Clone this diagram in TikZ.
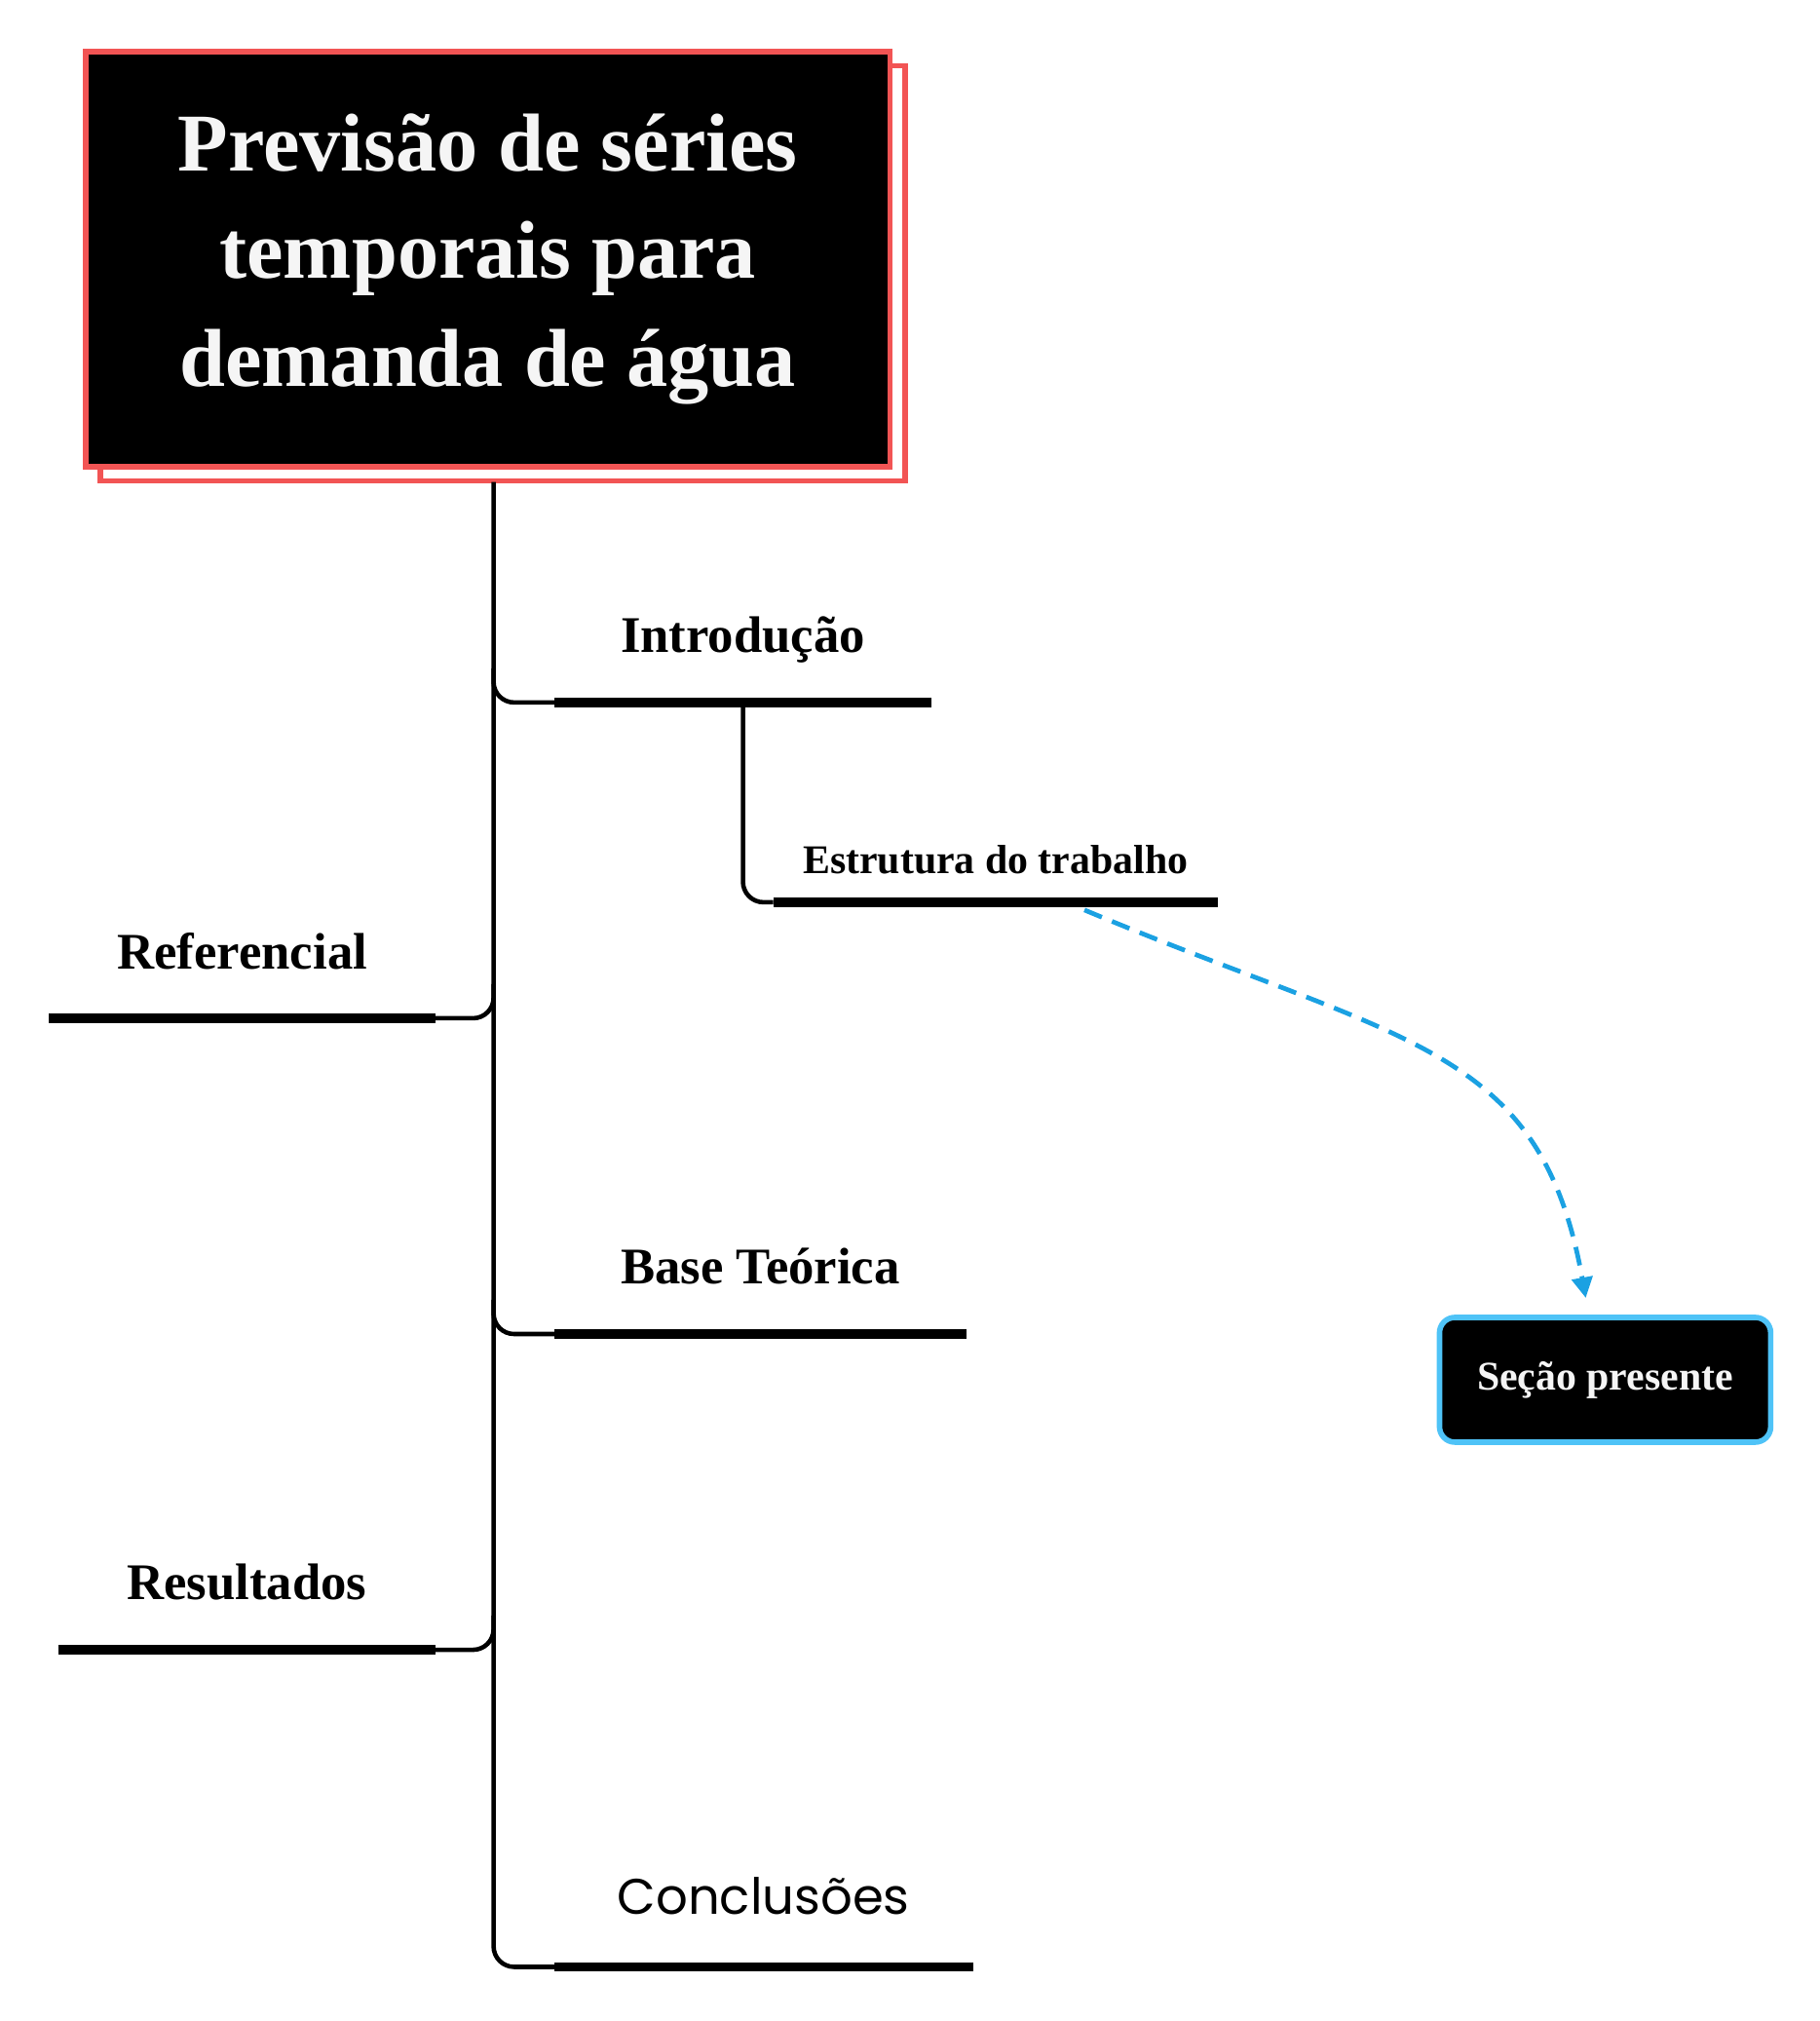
\documentclass[tikz,border=0pt]{standalone}
\usepackage{fontspec}
\setmainfont{Liberation Serif}
\newfontfamily\popfont{Poppins}
\usetikzlibrary{arrows.meta,calc}
\definecolor{titlered}{RGB}{242,84,84}
\definecolor{dashblue}{RGB}{27,161,226}
\definecolor{boxblue}{RGB}{79,195,247}
\tikzset{
  titlebox/.style={rectangle, draw=titlered, line width=1.6pt, minimum width=8.26cm, minimum height=4.26cm},
  branchlabel/.style={anchor=base, inner sep=0pt, font=\fontsize{15}{18}\selectfont\bfseries},
  sublabel/.style={anchor=base, inner sep=0pt, font=\fontsize{11.9}{14}\selectfont\bfseries},
  underline/.style={line width=2.7pt},
  stem/.style={line width=1.3pt, rounded corners=6pt},
}
\begin{document}
\begin{tikzpicture}[x=0.013222cm, y=-0.013222cm]
\useasboundingbox (0,0) rectangle (1412,1568);
% title
\node (tituloback) [titlebox, fill=white] at (390,212) {};
\node (titulo) [titlebox, fill=black, text={rgb,255:red,245;green,245;blue,245}, align=center,
  font=\fontsize{24}{31.4}\selectfont\bfseries] at (378.5,201) {Previsão de séries\\temporais para\\demanda de água};
\coordinate (root) at (383,374);
% underlines
\coordinate (introL) at (430,545);  \coordinate (introR) at (723,545);
\coordinate (estL) at (600,700);    \coordinate (estR) at (945,700);
\coordinate (refL) at (38,790);     \coordinate (refR) at (338,790);
\coordinate (baseL) at (430,1035);  \coordinate (baseR) at (750,1035);
\coordinate (resL) at (45,1280);    \coordinate (resR) at (338,1280);
\coordinate (conclL) at (430,1526); \coordinate (conclR) at (755,1526);
\coordinate (introM) at ($(introL)!0.5!(introR)$);
% labels
\node (intro) [branchlabel] at ($(introM)+(0,-39)$) {Introdução};
\node (estrutura) [sublabel] at ($(estL)!0.5!(estR)+(0,-22)$) {Estrutura do trabalho};
\node (ref) [branchlabel] at ($(refL)!0.5!(refR)+(0,-38)$) {Referencial};
\node (base) [branchlabel] at ($(baseL)!0.5!(baseR)+(0,-39)$) {Base Teórica};
\node (result) [branchlabel] at ($(resL)!0.5!(resR)+(0,-39)$) {Resultados};
\node (concl) [anchor=base, inner sep=0pt, font=\popfont\fontsize{14.6}{18}\selectfont] at ($(conclL)!0.5!(conclR)+(0,-41)$) {Conclusões};
\node (secao) [rectangle, rounded corners=4.5pt, fill=black, draw=boxblue, line width=1.6pt,
  minimum width=3.4cm, minimum height=1.28cm, text={rgb,255:red,245;green,245;blue,245},
  font=\fontsize{11.9}{14}\selectfont\bfseries] at (1245.5,1070.5) {Seção presente};
% branches
\draw[stem] (root) -- (root |- conclL) -- (conclL);
\draw[stem] ([yshift=10pt]root |- introL) -- (root |- introL) -- (introL);
\draw[stem] ([yshift=10pt]root |- refR) -- (root |- refR) -- (refR);
\draw[stem] ([yshift=10pt]root |- baseL) -- (root |- baseL) -- (baseL);
\draw[stem] ([yshift=10pt]root |- resR) -- (root |- resR) -- (resR);
\draw[stem] (introM) -- (introM |- estL) -- (estL);
\path[underline] (introL) edge (introR);
\path[underline] (estL) edge (estR);
\path[underline] (refL) edge (refR);
\path[underline] (baseL) edge (baseR);
\path[underline] (resL) edge (resR);
\path[underline] (conclL) edge (conclR);
% link to present section
\draw[dashblue, line width=1.35pt, dash pattern=on 5.5pt off 3.2pt, -{Triangle[length=6pt,width=6pt]}]
  ($(estL)!0.7!(estR)+(0,6)$) .. controls (1090,810) and (1195,810) .. ($(secao.north)+(-15,-13)$);
\end{tikzpicture}
\end{document}
